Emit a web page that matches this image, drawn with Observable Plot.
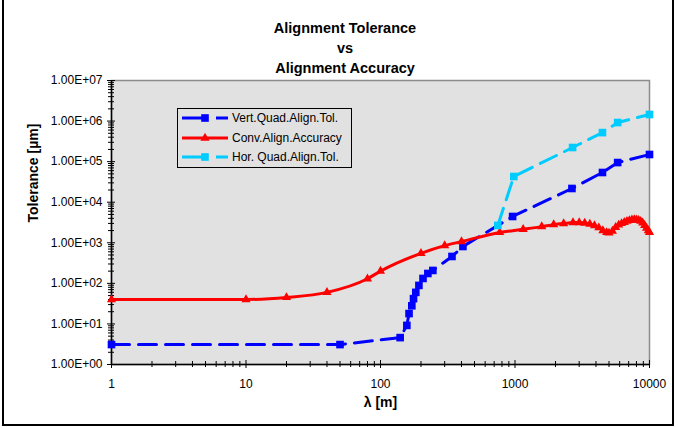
<!DOCTYPE html>
<html><head><meta charset="utf-8">
<script src="https://cdn.jsdelivr.net/npm/d3@7"></script>
<script src="https://cdn.jsdelivr.net/npm/@observablehq/plot@0.6"></script>
<style>
body{margin:0;background:#fff;font-family:"Liberation Sans",Arial,sans-serif;}
#wrap{position:relative;width:678px;height:428px;overflow:hidden;}
#wrap svg.plot{position:absolute;left:0;top:0;}
#border{position:absolute;left:2px;top:-5px;width:672px;height:431px;border:2px solid #000;box-sizing:border-box;pointer-events:none;}
#title{position:absolute;top:18px;left:262px;width:166px;background:#fff;text-align:center;font-weight:bold;font-size:14.5px;line-height:20px;color:#000;padding-bottom:1px;}
#legend{position:absolute;left:177px;top:108px;width:175px;height:60px;box-sizing:border-box;border:1px solid #000;background:#e1e1e1;}
</style>
</head><body>
<div id="wrap"></div>
<script>
// ---- data ----
const titleLines = ["Alignment Tolerance", "vs", "Alignment Accuracy"];
const xLabel = "λ [m]";
const yLabel = "Tolerance [µm]";

const xTicks = [1, 10, 100, 1000, 10000];
const xTickLabels = ["1", "10", "100", "1000", "10000"];
const yTicks = [1, 10, 100, 1000, 10000, 100000, 1000000, 10000000];
const yTickLabels = ["1.00E+00", "1.00E+01", "1.00E+02", "1.00E+03", "1.00E+04", "1.00E+05", "1.00E+06", "1.00E+07"];

const seriesNames = ["Vert.Quad.Align.Tol.", "Conv.Align.Accuracy", "Hor. Quad.Align.Tol."];
const seriesColors = ["#0000ff", "#ff0000", "#00ccff"];

const vertX = [1, 50, 140, 157, 163, 171, 176, 183, 193, 207, 225, 245, 340, 410, 960, 2650, 4470, 5800, 10000];
const vertY = [3.1, 3.1, 4.6, 9.2, 18, 28, 42, 60, 89, 132, 175, 208, 460, 810, 4450, 21800, 54000, 95000, 150000];

const convX = [1, 10, 20, 40, 80, 100, 200, 300, 400, 770, 1150, 1580, 1940, 2300, 2700, 3000, 3300, 3600, 3900, 4200, 4500, 4800, 5000, 5300, 5600, 5900, 6200, 6500, 6800, 7100, 7400, 7700, 8000, 8300, 8600, 8900, 9200, 9500, 9800, 10000];
const convY = [40, 40, 45, 60, 130, 200, 550, 850, 1070, 1800, 2150, 2500, 2800, 2990, 3150, 3150, 3050, 2900, 2650, 2350, 2000, 1800, 1750, 1950, 2400, 2750, 3000, 3200, 3400, 3550, 3700, 3750, 3700, 3600, 3400, 3100, 2700, 2300, 2000, 1800];

const horX = [745, 980, 2680, 4470, 5800, 10000];
const horY = [2680, 43000, 223000, 520000, 920000, 1450000];

// ---- build ----
const rows = (xs, ys) => xs.map((x, i) => ({x, y: ys[i]}));
const vert = rows(vertX, vertY), conv = rows(convX, convY), hor = rows(horX, horY);

const minorX = [], minorY = [];
for (let k = 0; k < 4; k++) for (let m = 2; m < 10; m++) minorX.push(m * 10 ** k);
for (let k = 0; k < 7; k++) for (let m = 2; m < 10; m++) minorY.push(m * 10 ** k);

const plot = Plot.plot({
  width: 678, height: 428,
  marginLeft: 111, marginRight: 29, marginTop: 80, marginBottom: 64,
  style: {fontFamily: "Liberation Sans, Arial, sans-serif", fontSize: "12px", color: "#000", background: "transparent"},
  x: {type: "log", domain: [1, 10000]},
  y: {type: "log", domain: [1, 1e7]},
  marks: [
    Plot.frame({fill: "#e1e1e1", stroke: "#8c8c8c", strokeWidth: 1.5}),
    Plot.axisY({ticks: yTicks, tickSize: 0, tickPadding: 9, tickFormat: d => yTickLabels[yTicks.indexOf(d)], label: null}),
    Plot.axisY({ticks: yTicks, tickSize: 8, dx: 4, tickFormat: () => "", label: null, stroke: "#000"}),
    Plot.axisY({ticks: minorY, tickSize: 6, dx: 3, tickFormat: () => "", label: null, stroke: "#000"}),
    Plot.axisX({ticks: xTicks, tickSize: 0, tickPadding: 15, tickFormat: d => xTickLabels[xTicks.indexOf(d)], label: null}),
    Plot.axisX({ticks: xTicks, tickSize: 8, dy: -4, tickFormat: () => "", label: null, stroke: "#000"}),
    Plot.axisX({ticks: minorX, tickSize: 6, dy: -3, tickFormat: () => "", label: null, stroke: "#000"}),
    Plot.ruleX([1], {stroke: "#000", strokeWidth: 1.5}),
    Plot.ruleY([1], {stroke: "#000", strokeWidth: 1.5}),
    Plot.line(vert, {x: "x", y: "y", stroke: seriesColors[0], strokeWidth: 3, strokeDasharray: "18,9"}),
    Plot.dot(vert, {x: "x", y: "y", symbol: "square", r: 4.3, fill: seriesColors[0], stroke: "none"}),
    Plot.line(conv, {x: "x", y: "y", stroke: seriesColors[1], strokeWidth: 3, curve: "monotone-x"}),
    Plot.dot(conv, {x: "x", y: "y", symbol: "triangle", r: 3.4, fill: seriesColors[1], stroke: "none"}),
    Plot.line(hor, {x: "x", y: "y", stroke: seriesColors[2], strokeWidth: 3, strokeDasharray: "18,9"}),
    Plot.dot(hor, {x: "x", y: "y", symbol: "square", r: 4.3, fill: seriesColors[2], stroke: "none"}),
    Plot.text([yLabel], {frameAnchor: "left", dx: -78, rotate: -90, fontWeight: "bold", fontSize: 14}),
    Plot.text([xLabel], {frameAnchor: "bottom", dy: 42, fontWeight: "bold", fontSize: 14})
  ]
});
plot.classList.add("plot");
const wrap = document.getElementById("wrap");
wrap.appendChild(plot);

// title
const t = document.createElement("div");
t.id = "title";
t.innerHTML = titleLines.map(s => `<div>${s}</div>`).join("");
wrap.appendChild(t);

// legend
const lg = d3.select(wrap).append("div").attr("id", "legend");
const ls = lg.append("svg").attr("width", 173).attr("height", 58).style("display", "block");
const rowsY = [9, 29, 48];
const symbols = [d3.symbolSquare, d3.symbolTriangle, d3.symbolSquare];
seriesNames.forEach((name, i) => {
  const g = ls.append("g").attr("transform", `translate(0,${rowsY[i]})`);
  g.append("line").attr("x1", 4).attr("x2", 50).attr("y1", 0).attr("y2", 0)
    .attr("stroke", seriesColors[i]).attr("stroke-width", 3)
    .attr("stroke-dasharray", i === 1 ? null : "26,8");
  g.append("path").attr("transform", "translate(27,0)")
    .attr("d", d3.symbol(symbols[i], i === 1 ? Math.PI * 3.4 * 3.4 : Math.PI * 4.3 * 4.3)())
    .attr("fill", seriesColors[i]);
  g.append("text").attr("x", 54).attr("y", 0).attr("dy", "0.36em")
    .attr("font-size", 12).attr("font-family", "Liberation Sans, Arial, sans-serif").text(name);
});

const b = document.createElement("div");
b.id = "border";
wrap.appendChild(b);
</script>
</body></html>
